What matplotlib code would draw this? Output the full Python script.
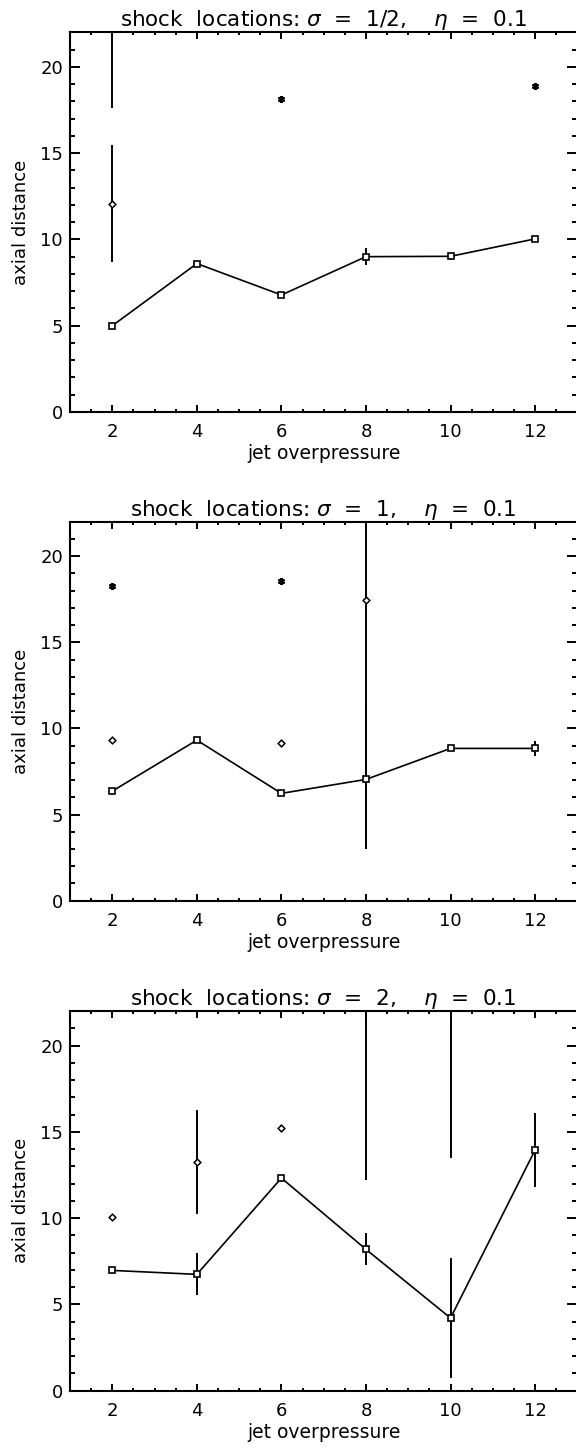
import matplotlib
matplotlib.use("Agg")
import matplotlib.pyplot as plt
from matplotlib.ticker import MultipleLocator

plt.rcParams['font.family'] = ['DejaVu Sans']
plt.rcParams['mathtext.fontset'] = 'dejavusans'

# jet overpressure values
pressure = [2, 4, 6, 8, 10, 12]

# sigma = 1/2
s05_first = [5.0, 8.6, 6.78, 9.0, 9.02, 10.03]
s05_first_err = [0.12, 0.12, 0.12, 0.5, 0.2, 0.12]
s05_second_x = [2]
s05_second = [12.08]
s05_second_err = [3.4]
s05_third_x = [2, 6, 12]
s05_third = [23.5, 18.13, 18.9]
s05_third_err = [5.9, 0.1, 0.1]

# sigma = 1
s1_first = [6.36, 9.32, 6.23, 7.04, 8.84, 8.84]
s1_first_err = [0.12, 0.12, 0.12, 4.06, 0.15, 0.43]
s1_second_x = [2, 6, 8]
s1_second = [9.32, 9.13, 17.45]
s1_second_err = [0.1, 0.12, 14.47]
s1_third_x = [2, 6]
s1_third = [18.26, 18.57]
s1_third_err = [0.1, 0.1]

# sigma = 2
s2_first = [6.97, 6.74, 12.32, 8.19, 4.21, 13.95]
s2_first_err = [0.15, 1.21, 0.15, 0.93, 3.46, 2.12]
s2_second_x = [2, 4, 6]
s2_second = [10.04, 13.27, 15.24]
s2_second_err = [0.15, 3.02, 0.15]
s2_third_x = [8, 10]
s2_third = [24.0, 24.5]
s2_third_err = [11.79, 11.04]

panels = [
    ("1/2", s05_first, s05_first_err, s05_second_x, s05_second, s05_second_err,
     s05_third_x, s05_third, s05_third_err),
    ("1", s1_first, s1_first_err, s1_second_x, s1_second, s1_second_err,
     s1_third_x, s1_third, s1_third_err),
    ("2", s2_first, s2_first_err, s2_second_x, s2_second, s2_second_err,
     s2_third_x, s2_third, s2_third_err),
]

W, H = 576, 1450
fig = plt.figure(figsize=(W / 100, H / 100), dpi=100)

left_px, right_px = 70, 577.4
boxes = [(32.3, 412.0), (521.7, 900.7), (1011.0, 1390.7)]

for (sig, f, fe, sx, sv, se, tx, tv, te), (top, bot) in zip(panels, boxes):
    ax = fig.add_axes([left_px / W, 1 - bot / H, (right_px - left_px) / W, (bot - top) / H])
    ax.set_xlim(1, 13)
    ax.set_ylim(0, 22)

    ax.plot(pressure, f, color='black', lw=1.2, zorder=2)
    ax.errorbar(pressure, f, yerr=fe, fmt='s', ms=4.6, mfc='white', mec='black', mew=1.2,
                ecolor='black', elinewidth=1.4, capsize=0, zorder=3)
    ax.errorbar(sx, sv, yerr=se, fmt='D', ms=3.4, mfc='white', mec='black', mew=1.1,
                ecolor='black', elinewidth=1.4, capsize=0, zorder=3)
    ax.errorbar(tx, tv, yerr=te, fmt='none', ecolor='black', elinewidth=1.4,
                capsize=0, zorder=3)
    ax.plot(tx, tv, linestyle='none', marker=(6, 2, 0), ms=5, mec='black', mew=1.6, zorder=4)

    ax.xaxis.set_major_locator(MultipleLocator(2))
    ax.xaxis.set_minor_locator(MultipleLocator(0.5))
    ax.yaxis.set_major_locator(MultipleLocator(5))
    ax.yaxis.set_minor_locator(MultipleLocator(1))
    ax.tick_params(axis='x', which='major', direction='in', length=5, width=1.4,
                   top=True, bottom=True, labelsize=13, pad=8)
    ax.tick_params(axis='x', which='minor', direction='in', length=2.5, width=1.4,
                   top=True, bottom=True)
    ax.tick_params(axis='y', which='major', direction='in', length=7.2, width=1.4,
                   left=True, right=True, labelsize=13, pad=5)
    ax.tick_params(axis='y', which='minor', direction='in', length=3.6, width=1.4,
                   left=True, right=True)
    for sp in ax.spines.values():
        sp.set_linewidth(1.5)

    ax.set_xlabel('jet overpressure', fontsize=13.5, labelpad=2)
    ax.set_ylabel('axial distance', fontsize=13, labelpad=7)
    ax.set_title(r'shock  locations: $\sigma$  =  %s,    $\eta$  =  0.1' % sig,
                 fontsize=15.5, pad=4)

fig.savefig('out.png', dpi=100)
